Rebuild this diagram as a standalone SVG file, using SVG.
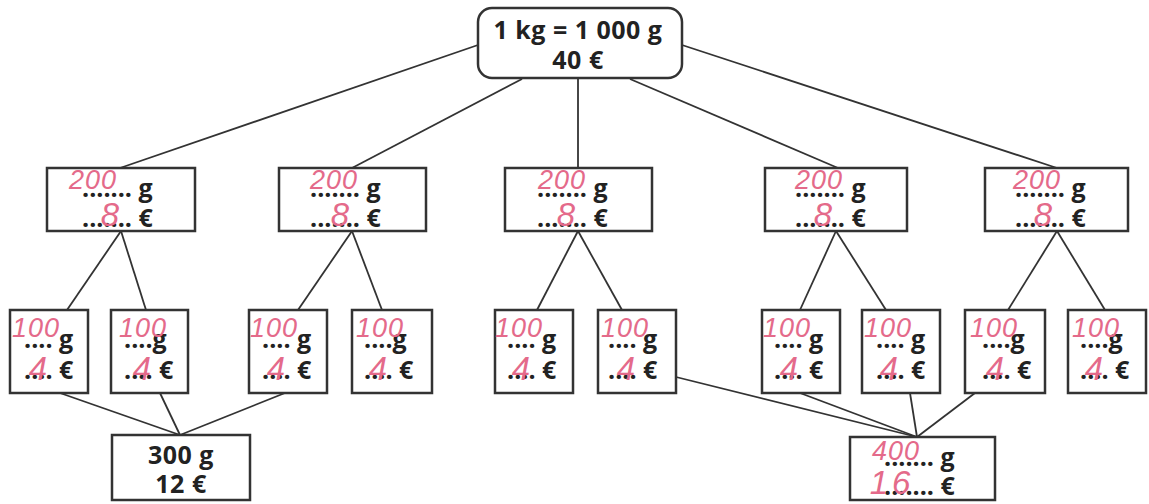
<svg xmlns="http://www.w3.org/2000/svg" width="1149" height="504" viewBox="0 0 1149 504">
<style>
.box{fill:#fff;stroke:#333;stroke-width:2.5}
.con{stroke:#333;stroke-width:1.8;fill:none}
.t{font-family:"Open Sans","Noto Sans",sans-serif;font-weight:bold;font-size:25px;fill:#222;text-anchor:middle;letter-spacing:0.5px}
.d{font-family:"Open Sans","Noto Sans",sans-serif;font-weight:bold;font-size:25px;fill:#222}
.h{font-family:"Liberation Sans",sans-serif;font-style:italic;font-size:27px;fill:#e46a8a;text-anchor:middle;letter-spacing:1px}
.hb{font-family:"Liberation Sans",sans-serif;font-style:italic;font-size:33px;fill:#e46a8a;text-anchor:middle}
</style>
<rect width="1149" height="504" fill="#fff"/>
<g id="connectors">
<line class="con" x1="478" y1="45" x2="120" y2="168"/>
<line class="con" x1="522" y1="79" x2="352" y2="168"/>
<line class="con" x1="578" y1="79" x2="578" y2="168"/>
<line class="con" x1="630" y1="79" x2="838" y2="168"/>
<line class="con" x1="682" y1="45" x2="1057" y2="168"/>
<line class="con" x1="121" y1="231" x2="67" y2="310"/>
<line class="con" x1="121" y1="231" x2="146" y2="310"/>
<line class="con" x1="352" y1="231" x2="298" y2="310"/>
<line class="con" x1="352" y1="231" x2="382" y2="310"/>
<line class="con" x1="578" y1="231" x2="537" y2="310"/>
<line class="con" x1="578" y1="231" x2="622" y2="310"/>
<line class="con" x1="836" y1="231" x2="800" y2="310"/>
<line class="con" x1="836" y1="231" x2="886" y2="310"/>
<line class="con" x1="1057" y1="231" x2="1008" y2="310"/>
<line class="con" x1="1057" y1="231" x2="1105" y2="310"/>
<line class="con" x1="60" y1="393" x2="180" y2="435"/>
<line class="con" x1="160" y1="393" x2="180" y2="435"/>
<line class="con" x1="285" y1="393" x2="180" y2="435"/>
<line class="con" x1="676" y1="377" x2="917" y2="437"/>
<line class="con" x1="800" y1="393" x2="917" y2="437"/>
<line class="con" x1="910" y1="393" x2="917" y2="437"/>
<line class="con" x1="975" y1="393" x2="917" y2="437"/>
</g>
<g id="top">
<rect class="box" x="478" y="8" width="204" height="70" rx="14"/>
<text class="t" x="578" y="39">1 kg = 1 000 g</text>
<text class="t" x="578" y="69">40 €</text>
</g>
<g id="m1">
<rect class="box" x="47" y="168" width="148" height="63"/>
<text class="d" x="82" y="197">....... g</text>
<text class="d" x="82" y="227">....... €</text>
<text class="h" x="93" y="189">200</text>
<text class="hb" x="110" y="226">8</text>
</g>
<g id="m2">
<rect class="box" x="279" y="168" width="147" height="63"/>
<text class="d" x="310" y="197">....... g</text>
<text class="d" x="310" y="227">....... €</text>
<text class="h" x="334" y="189">200</text>
<text class="hb" x="340" y="226">8</text>
</g>
<g id="m3">
<rect class="box" x="505" y="168" width="147" height="63"/>
<text class="d" x="537" y="197">....... g</text>
<text class="d" x="537" y="227">....... €</text>
<text class="h" x="562" y="189">200</text>
<text class="hb" x="566" y="226">8</text>
</g>
<g id="m4">
<rect class="box" x="765" y="168" width="142" height="63"/>
<text class="d" x="795" y="197">....... g</text>
<text class="d" x="795" y="227">....... €</text>
<text class="h" x="819" y="189">200</text>
<text class="hb" x="823" y="226">8</text>
</g>
<g id="m5">
<rect class="box" x="985" y="168" width="143" height="63"/>
<text class="d" x="1015" y="197">....... g</text>
<text class="d" x="1015" y="227">....... €</text>
<text class="h" x="1037" y="189">200</text>
<text class="hb" x="1043" y="226">8</text>
</g>
<g id="b1">
<rect class="box" x="10" y="310" width="78" height="83"/>
<text class="d" x="24" y="348">.... g</text>
<text class="d" x="24" y="379">.... €</text>
<text class="h" x="36" y="337">100</text>
<text class="hb" x="38" y="380">4</text>
</g>
<g id="b2">
<rect class="box" x="111" y="310" width="77" height="83"/>
<text class="d" x="124" y="348">....g</text>
<text class="d" x="124" y="379">.... €</text>
<text class="h" x="143" y="337">100</text>
<text class="hb" x="142" y="380">4</text>
</g>
<g id="b3">
<rect class="box" x="249" y="310" width="78" height="83"/>
<text class="d" x="262" y="348">.... g</text>
<text class="d" x="262" y="379">.... €</text>
<text class="h" x="274" y="337">100</text>
<text class="hb" x="276" y="380">4</text>
</g>
<g id="b4">
<rect class="box" x="352" y="310" width="80" height="83"/>
<text class="d" x="364" y="348">....g</text>
<text class="d" x="364" y="379">.... €</text>
<text class="h" x="380" y="337">100</text>
<text class="hb" x="378" y="380">4</text>
</g>
<g id="b5">
<rect class="box" x="495" y="310" width="78" height="83"/>
<text class="d" x="507" y="348">.... g</text>
<text class="d" x="507" y="379">.... €</text>
<text class="h" x="519" y="337">100</text>
<text class="hb" x="521" y="380">4</text>
</g>
<g id="b6">
<rect class="box" x="598" y="310" width="78" height="83"/>
<text class="d" x="608" y="348">.... g</text>
<text class="d" x="608" y="379">.... €</text>
<text class="h" x="625" y="337">100</text>
<text class="hb" x="626" y="380">4</text>
</g>
<g id="b7">
<rect class="box" x="762" y="310" width="78" height="83"/>
<text class="d" x="774" y="348">.... g</text>
<text class="d" x="774" y="379">.... €</text>
<text class="h" x="787" y="337">100</text>
<text class="hb" x="789" y="380">4</text>
</g>
<g id="b8">
<rect class="box" x="862" y="310" width="78" height="83"/>
<text class="d" x="876" y="348">.... g</text>
<text class="d" x="876" y="379">.... €</text>
<text class="h" x="888" y="337">100</text>
<text class="hb" x="889" y="380">4</text>
</g>
<g id="b9">
<rect class="box" x="965" y="310" width="80" height="83"/>
<text class="d" x="982" y="348">....g</text>
<text class="d" x="982" y="379">.... €</text>
<text class="h" x="994" y="337">100</text>
<text class="hb" x="995" y="380">4</text>
</g>
<g id="b10">
<rect class="box" x="1068" y="310" width="78" height="83"/>
<text class="d" x="1080" y="348">....g</text>
<text class="d" x="1080" y="379">.... €</text>
<text class="h" x="1096" y="337">100</text>
<text class="hb" x="1094" y="380">4</text>
</g>
<g id="n300">
<rect class="box" x="112" y="435" width="138" height="65"/>
<text class="t" x="181" y="464">300 g</text>
<text class="t" x="181" y="493">12 €</text>
</g>
<g id="n400">
<rect class="box" x="850" y="437" width="145" height="63"/>
<text class="d" x="884" y="466">....... g</text>
<text class="d" x="884" y="495">....... €</text>
<text class="h" x="896" y="460">400</text>
<text class="hb" x="892" y="494" letter-spacing="4">16</text>
</g>
</svg>
